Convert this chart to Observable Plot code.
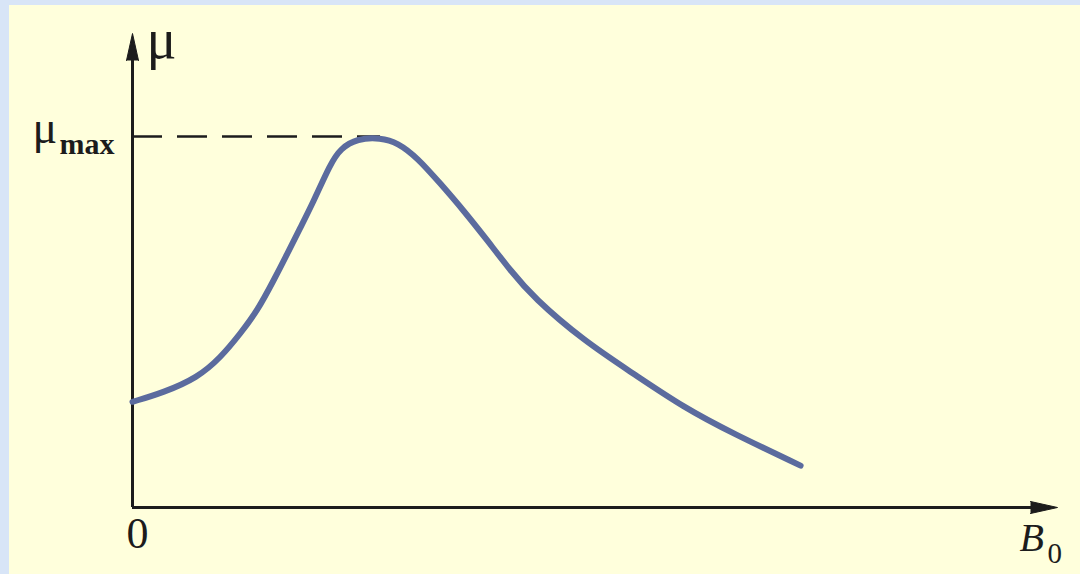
<!DOCTYPE html>
<html>
<head>
<meta charset="utf-8">
<script src="https://cdn.jsdelivr.net/npm/d3@7"></script>
<script src="https://cdn.jsdelivr.net/npm/@observablehq/plot@0.6"></script>
<style>
  html, body { margin: 0; padding: 0; width: 1080px; height: 574px; overflow: hidden; }
  body { background: #d8e5f7; position: relative; }
  #panel { position: absolute; left: 9px; top: 5px; right: 0; bottom: 0; background: #ffffdc; }
  #chart { position: absolute; left: 0; top: 0; }
  #chart svg { background: transparent; display: block; }
</style>
</head>
<body>
<div id="panel"></div>
<div id="chart"></div>
<script>
// Magnetic field B0 (arbitrary units, peak at 1) and permeability μ (relative to μmax)
const B0 = [0, 0.125, 0.262, 0.355, 0.435, 0.504, 0.569, 0.625, 0.677, 0.726, 0.798, 0.839, 0.907, 1.000, 1.069, 1.149, 1.242, 1.335, 1.431, 1.524, 1.617, 1.819, 2.020, 2.222, 2.423, 2.694];
const mu = [0.285, 0.310, 0.350, 0.404, 0.469, 0.531, 0.612, 0.685, 0.755, 0.819, 0.927, 0.968, 0.995, 0.997, 0.984, 0.943, 0.873, 0.801, 0.720, 0.639, 0.566, 0.450, 0.361, 0.270, 0.199, 0.113];

// Axis extents and reference level
const xMax = 3.73;
const yMax = 1.278;
const muMax = 1;
const peakB = 1.0;

// Text labels
const yAxisLabel = "μ";
const maxLabelMain = "μ";
const maxLabelSub = "max";
const originLabel = "0";
const xAxisLabelMain = "B";
const xAxisLabelSub = "0";

const curve = B0.map((b, i) => ({b, m: mu[i]}));
const font = "Liberation Serif, Times New Roman, serif";
const ink = "#1c1c1c";

const chart = Plot.plot({
  width: 1080,
  height: 574,
  marginLeft: 132,
  marginRight: 23,
  marginTop: 33,
  marginBottom: 67,
  style: {background: "transparent", fontFamily: font, overflow: "visible"},
  x: {domain: [0, xMax], axis: null},
  y: {domain: [0, yMax], axis: null},
  marks: [
    // dashed μmax level
    Plot.ruleY([muMax], {x1: 0, x2: peakB, stroke: ink, strokeWidth: 2.5, strokeDasharray: "30,15"}),
    // axes
    Plot.ruleX([0], {y1: 0, y2: yMax - 0.04, stroke: ink, strokeWidth: 3}),
    Plot.ruleY([0], {x1: 0, x2: xMax - 0.06, stroke: ink, strokeWidth: 3}),
    Plot.vector([0], {x: 0, y: yMax, length: 27, r: 6, shape: "spike", anchor: "end", rotate: 0, fill: ink, stroke: ink, strokeWidth: 1}),
    Plot.vector([0], {x: xMax, y: 0, length: 27, r: 6, shape: "spike", anchor: "end", rotate: 90, fill: ink, stroke: ink, strokeWidth: 1}),
    // curve
    Plot.line(curve, {x: "b", y: "m", curve: "basis", stroke: "#5b6b9e", strokeWidth: 6, strokeLinecap: "round"}),
    // labels
    Plot.text([yAxisLabel], {x: 0, y: yMax, text: d => d, dx: 14, dy: 24, textAnchor: "start", lineAnchor: "bottom", fontSize: 56, fill: ink}),
    Plot.text([maxLabelMain], {x: 0, y: muMax, text: d => d, dx: -100, dy: 6, textAnchor: "start", lineAnchor: "bottom", fontSize: 46, fill: ink}),
    Plot.text([maxLabelSub], {x: 0, y: muMax, text: d => d, dx: -73, dy: 17, textAnchor: "start", lineAnchor: "bottom", fontSize: 30, fontWeight: "bold", letterSpacing: 3, fill: ink}),
    Plot.text([originLabel], {x: 0, y: 0, text: d => d, dx: 5, dy: 40, textAnchor: "middle", lineAnchor: "bottom", fontSize: 44, fill: ink}),
    Plot.text([xAxisLabelMain], {x: xMax, y: 0, text: d => d, dx: -38, dy: 43, textAnchor: "start", lineAnchor: "bottom", fontSize: 40, fontStyle: "italic", fill: ink}),
    Plot.text([xAxisLabelSub], {x: xMax, y: 0, text: d => d, dx: -10, dy: 55, textAnchor: "start", lineAnchor: "bottom", fontSize: 29, fill: ink})
  ]
});
document.getElementById("chart").appendChild(chart);
</script>
</body>
</html>
